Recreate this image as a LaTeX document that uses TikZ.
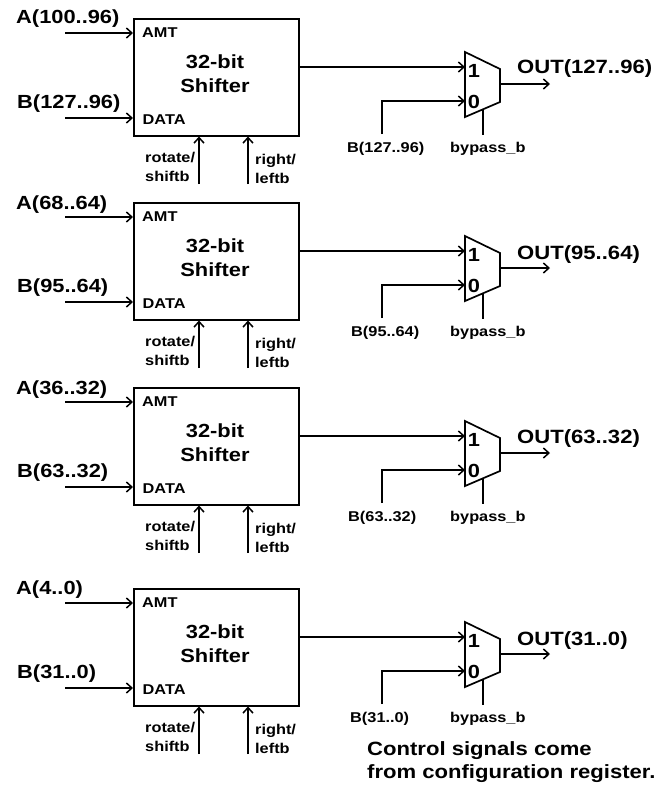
\documentclass[tikz,border=0pt]{standalone}
\usepackage{fontspec}
\setmainfont[FakeStretch=1.15]{Liberation Sans}
\usetikzlibrary{arrows.meta}
\newcommand{\fsz}[1]{\fontsize{#1}{#1}\selectfont\bfseries}
\tikzset{
  wire/.style={line width=1.7pt,black},
  arr/.style={wire,-{Straight Barb[length=5.5pt,width=10pt,line width=1.5pt]}},
  lbl/.style={inner sep=0,anchor=base west,text=black},
  biglabel/.style={lbl,font=\fsz{19}},
  outlabel/.style={lbl,font=\fsz{19.2}},
  smalllabel/.style={lbl,font=\fsz{14.2}},
  titlelabel/.style={inner sep=0,anchor=base,font=\fsz{19}},
  shifter/.style={draw,line width=2pt,inner sep=0,minimum width=165pt,minimum height=117pt,anchor=north west},
  muxbody/.style={draw,line width=1.7pt,line join=miter}
}
\begin{document}
\begin{tikzpicture}[x=1pt,y=-1pt]
\useasboundingbox (0,0) rectangle (657,788);
\fill[white] (0,0) rectangle (657,788);
\foreach \i/\dy/\al/\Ay/\bl/\ol/\Oy/\sx/\sl in {
  1/0/A(100..96)/23/B(127..96)/OUT(127..96)/73/347/B(127..96),
  2/184/A(68..64)/25/B(95..64)/OUT(95..64)/75/351/B(95..64),
  3/369/A(36..32)/25/B(63..32)/OUT(63..32)/74/348/B(63..32),
  4/570/A(4..0)/24/B(31..0)/OUT(31..0)/75/350/B(31..0)}
{
\begin{scope}[shift={(0,\dy)}]
  \node[shifter] (box\i) at (133,17.5) {};
  \node[titlelabel] (t\i) at (215,68) {32-bit};
  \node[titlelabel] (s\i) at (215,92) {Shifter};
  \node[smalllabel] (amt\i) at (142,37.5) {AMT};
  \node[smalllabel] (data\i) at (142.5,124) {DATA};
  \node[biglabel] (al\i) at (16,\Ay) {\al};
  \node[biglabel] (bl\i) at (17,108.5) {\bl};
  \coordinate (ai\i) at (65,33);
  \coordinate (bi\i) at (65,118);
  \draw[arr] (ai\i) -- (ai\i -| box\i.west);
  \draw[arr] (bi\i) -- (bi\i -| box\i.west);
  \coordinate (ro\i) at (199,184);
  \coordinate (ri\i) at (248,184);
  \draw[arr] (ro\i) -- (ro\i |- box\i.south);
  \draw[arr] (ri\i) -- (ri\i |- box\i.south);
  \node[smalllabel] (r1\i) at (145,162.5) {rotate/};
  \node[smalllabel] (r2\i) at (145,181.5) {shiftb};
  \node[smalllabel] (l1\i) at (255,164) {right/};
  \node[smalllabel] (l2\i) at (255,183) {leftb};
  % multiplexer
  \coordinate (m1\i) at (465,52);
  \coordinate (m2\i) at (500,69);
  \coordinate (m3\i) at (500,102);
  \coordinate (m4\i) at (465,117);
  \coordinate (mo\i) at (500,84);
  \coordinate (mb\i) at (483,110);
  \draw[muxbody] (m1\i) -- (m2\i) -- (m3\i) -- (m4\i) -- cycle;
  \coordinate (in1\i) at (465,67);
  \coordinate (in0\i) at (465,101);
  \coordinate (bb\i) at (382,134);
  \coordinate (bp\i) at (483,135);
  \coordinate (oe\i) at (550,84);
  \draw[arr] (box\i.east |- in1\i) -- (in1\i);
  \draw[arr] (bb\i) |- (in0\i);
  \draw[wire] (mb\i) -- (bp\i);
  \draw[arr] (mo\i) -- (oe\i);
  \node[titlelabel] (p1\i) at (474,77) {1};
  \node[titlelabel] (p0\i) at (474,108) {0};
  \node[outlabel] (ol\i) at (517,\Oy) {\ol};
  \node[smalllabel] (sb\i) at (\sx,152.5) {\sl};
  \node[smalllabel] (by\i) at (450,152) {bypass\_b};
\end{scope}
}
\node[lbl,font=\fsz{19.2}] (n1) at (367,755) {Control signals come};
\node[lbl,font=\fsz{19.2}] (n2) at (367,778) {from configuration register.};
\end{tikzpicture}
\end{document}
